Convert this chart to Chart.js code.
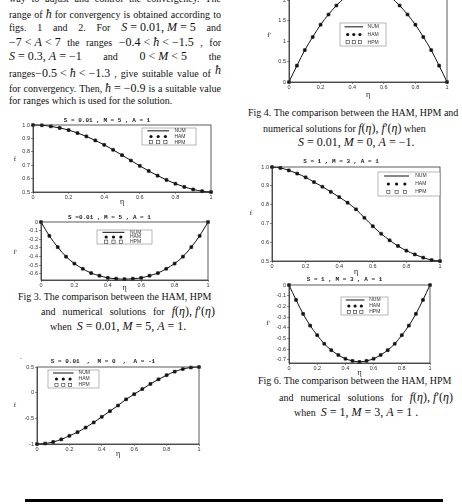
<!DOCTYPE html>
<html>
<head>
<meta charset="utf-8">
<script src="https://cdn.jsdelivr.net/npm/chart.js@4.4.0/dist/chart.umd.min.js"></script>
<style>
html, body { margin: 0; padding: 0; background: #fff; }
body { width: 462px; height: 504px; position: relative; overflow: hidden;
       font-family: 'Liberation Serif', serif; font-size: 10px; color: #111; }
.tx { position: absolute; line-height: 14px; white-space: nowrap; }
.jl { position: absolute; left: 9px; width: 212px; line-height: 14px; white-space: nowrap;
      display: flex; justify-content: space-between; align-items: baseline; }
.m { font-size: 12px; }
canvas { position: absolute; }
.rule { position: absolute; left: 25px; top: 499px; width: 418px; height: 3px; background: #000; }
</style>
</head>
<body>

<div class="jl" style="top:-8px">way|to|adjust|and|control|the|convergency.|The</div>
<div class="jl" style="top:7px">range|of|<span class="m"><i>ħ</i></span>|for|convergency|is|obtained|according|to</div>
<div class="jl" style="top:20px">figs.|1|and|2.|For|<span class="m"><i>S</i> = 0.01, <i>M</i> = 5</span>|and</div>
<div class="jl" style="top:35px"><span class="m">−7 &lt; <i>A</i> &lt; 7</span>|the|ranges|<span class="m">−0.4 &lt; <i>ħ</i> &lt; −1.5</span>|,|for</div>
<div class="jl" style="top:49px"><span class="m"><i>S</i> = 0.3, <i>A</i> = −1</span>|and|<span class="m">0 &lt; <i>M</i> &lt; 5</span>|the</div>
<div class="jl" style="top:66px">ranges<span class="m">−0.5 &lt; <i>ħ</i> &lt; −1.3</span>|,|give|suitable|value|of|<span class="m" style="position:relative;top:-3px"><i>ħ</i></span></div>
<div class="jl" style="top:81px">for|convergency.|Then,|<span class="m"><i>ħ</i> = −0.9</span>|is|a|suitable|value</div>
<div class="tx" style="left:9px;top:94px">for ranges which is used for the solution.</div>

<div class="tx" style="left:18px;top:290px">Fig 3. The comparison between the HAM, HPM</div>
<div class="jl" style="left:41px;width:174px;top:304px">and|numerical|solutions|for|<span class="m"><i>f</i>(<i>η</i>), <i>f</i>′(<i>η</i>)</span></div>
<div class="tx" style="left:50px;top:319px">when&nbsp; <span class="m"><i>S</i> = 0.01, <i>M</i> = 5, <i>A</i> = 1.</span></div>

<div class="tx" style="left:248px;top:106px">Fig 4. The comparison between the HAM, HPM and</div>
<div class="tx" style="left:263px;top:121px">numerical solutions for <span class="m"><i>f</i>(<i>η</i>), <i>f</i>′(<i>η</i>)</span> when</div>
<div class="tx" style="left:298px;top:135px"><span class="m"><i>S</i> = 0.01, <i>M</i> = 0, <i>A</i> = −1.</span></div>

<div class="tx" style="left:258px;top:374px">Fig 6. The comparison between the HAM, HPM</div>
<div class="jl" style="left:279px;width:174px;top:390px">and|numerical|solutions|for|<span class="m"><i>f</i>(<i>η</i>), <i>f</i>′(<i>η</i>)</span></div>
<div class="tx" style="left:294px;top:405px">when&nbsp; <span class="m"><i>S</i> = 1, <i>M</i> = 3, <i>A</i> = 1 .</span></div>

<div class="tx" style="left:20px;top:350px;font-size:7px">.</div>

<canvas id="p1"></canvas>
<canvas id="p2"></canvas>
<canvas id="p3"></canvas>
<canvas id="p4"></canvas>
<canvas id="p5"></canvas>
<canvas id="p6"></canvas>

<div class="rule"></div>

<script>
// eta grid used by every panel
const eta = [0, 0.05, 0.1, 0.15, 0.2, 0.25, 0.3, 0.35, 0.4, 0.45, 0.5,
             0.55, 0.6, 0.65, 0.7, 0.75, 0.8, 0.85, 0.9, 0.95, 1];

// Fig 3: S = 0.01, M = 5, A = 1
const fFig3 = [1.0, 0.998, 0.99, 0.978, 0.962, 0.94, 0.915, 0.885, 0.852, 0.815, 0.775,
               0.735, 0.695, 0.657, 0.622, 0.59, 0.562, 0.538, 0.519, 0.506, 0.5];
const fpFig3 = [0, -0.16, -0.29, -0.4, -0.48, -0.54, -0.59, -0.62, -0.645, -0.655, -0.66,
                -0.655, -0.645, -0.62, -0.59, -0.54, -0.48, -0.4, -0.29, -0.16, 0];

// Fig 4: S = 0.01, M = 0, A = -1
const fFig4 = [-1, -0.99, -0.96, -0.91, -0.84, -0.77, -0.68, -0.58, -0.47, -0.36, -0.25,
               -0.13, -0.03, 0.07, 0.17, 0.26, 0.34, 0.41, 0.46, 0.49, 0.5];
const fpFig4 = [0, 0.4, 0.78, 1.1, 1.4, 1.65, 1.87, 2.05, 2.18, 2.26, 2.28,
                2.26, 2.18, 2.05, 1.87, 1.65, 1.4, 1.1, 0.78, 0.4, 0];

// Fig 6: S = 1, M = 3, A = 1
const fFig6 = [1.0, 0.995, 0.982, 0.965, 0.945, 0.92, 0.895, 0.868, 0.84, 0.81, 0.775,
               0.73, 0.685, 0.645, 0.61, 0.58, 0.555, 0.535, 0.518, 0.505, 0.5];
const fpFig6 = [0, -0.14, -0.27, -0.38, -0.47, -0.55, -0.61, -0.655, -0.69, -0.71, -0.72,
                -0.71, -0.69, -0.655, -0.61, -0.55, -0.47, -0.38, -0.27, -0.14, 0];

const seriesNames = ['NUM', 'HAM', 'HPM'];

// tick values and labels
const etaTicks = [0, 0.2, 0.4, 0.6, 0.8, 1];
const etaTickLabels = ['0', '0.2', '0.4', '0.6', '0.8', '1'];
const fTicks = [0.5, 0.6, 0.7, 0.8, 0.9, 1];
const fTickLabels = ['0.5', '0.6', '0.7', '0.8', '0.9', '1.0'];
const fpFig3Ticks = [-0.6, -0.5, -0.4, -0.3, -0.2, -0.1, 0];
const fpFig3TickLabels = ['-0.6', '-0.5', '-0.4', '-0.3', '-0.2', '-0.1', '0'];
const fFig4Ticks = [-1, -0.5, 0, 0.5];
const fFig4TickLabels = ['-1', '-0.5', '0', '0.5'];
const fpFig4Ticks = [0, 0.5, 1, 1.5, 2, 2.5];
const fpFig4TickLabels = ['0', '0.5', '1', '1.5', '2', '2.5'];
const fpFig6Ticks = [-0.7, -0.6, -0.5, -0.4, -0.3, -0.2, -0.1, 0];
const fpFig6TickLabels = ['-0.7', '-0.6', '-0.5', '-0.4', '-0.3', '-0.2', '-0.1', '0'];

// page layout of each panel (plot box in page pixels)
const panels = [
    { id: 'p1', title: 'S = 0.01 , M = 5 , A = 1', values: fFig3, yTicks: fTicks, yTickLabels: fTickLabels,
      yMin: 0.5, yMax: 1.0, yName: 'f', box: { left: 33, top: 125, right: 211, bottom: 192 },
      titleY: 120, etaY: 202, nameAt: [15, 159], legendAt: [142, 128, 54, 17] },
    { id: 'p2', title: 'S =0.01 , M = 5 , A = 1', values: fpFig3, yTicks: fpFig3Ticks, yTickLabels: fpFig3TickLabels,
      yMin: -0.67, yMax: 0, yName: "f'", box: { left: 41, top: 222, right: 208, bottom: 280 },
      titleY: 217.5, etaY: 288, nameAt: [15, 252], legendAt: [97, 230, 55, 14] },
    { id: 'p3', title: 'S = 0.01  ,  M = 0  ,  A = -1', values: fFig4, yTicks: fFig4Ticks, yTickLabels: fFig4TickLabels,
      yMin: -1, yMax: 0.5, yName: 'f', box: { left: 37, top: 367, right: 199, bottom: 444 },
      titleY: 361, etaY: 454, nameAt: [15, 405], legendAt: [48, 370, 51, 18] },
    { id: 'p4', title: null, values: fpFig4, yTicks: fpFig4Ticks, yTickLabels: fpFig4TickLabels,
      yMin: 0, yMax: 2.5, yName: "f'", box: { left: 289, top: -20.5, right: 447, bottom: 82 },
      titleY: null, etaY: 95, nameAt: [269, 35], legendAt: [340, 23, 46, 23] },
    { id: 'p5', title: 'S = 1 , M = 3 , A = 1', values: fFig6, yTicks: fTicks, yTickLabels: fTickLabels,
      yMin: 0.5, yMax: 1.0, yName: 'f', box: { left: 272, top: 167, right: 440, bottom: 261 },
      titleY: 161, etaY: 272, nameAt: [251, 213], legendAt: [378, 172, 62, 24] },
    { id: 'p6', title: 'S = 1 , M = 3 , A = 1', values: fpFig6, yTicks: fpFig6Ticks, yTickLabels: fpFig6TickLabels,
      yMin: -0.73, yMax: 0, yName: "f'", box: { left: 289, top: 285, right: 430, bottom: 363 },
      titleY: 279, etaY: 373, nameAt: [268, 323], legendAt: [341, 297, 47, 18] }
];

// split justified lines into flex items
document.querySelectorAll('.jl').forEach(function(el) {
    el.innerHTML = el.innerHTML.split('|').map(s => '<span>' + s + '</span>').join('');
});

function labelFor(values, labels, v) {
    const i = values.findIndex(t => Math.abs(t - v) < 1e-9);
    return i < 0 ? '' : labels[i];
}

// frame, y name and legend box drawn on top of each panel
const panelDecor = {
    id: 'panelDecor',
    afterDraw(chart, args, opts) {
        const ctx = chart.ctx;
        const a = chart.chartArea;
        ctx.save();
        ctx.strokeStyle = '#333';
        ctx.lineWidth = 0.8;
        ctx.strokeRect(a.left, a.top, a.right - a.left, a.bottom - a.top);

        ctx.fillStyle = '#222';
        ctx.font = '7px "Liberation Serif"';
        ctx.textAlign = 'center';
        ctx.textBaseline = 'middle';
        ctx.fillText(opts.yName, opts.nameX, opts.nameY);

        const [lx, ly, lw, lh] = opts.legend;
        ctx.fillStyle = '#fff';
        ctx.fillRect(lx, ly, lw, lh);
        ctx.strokeStyle = '#888';
        ctx.lineWidth = 0.6;
        ctx.strokeRect(lx, ly, lw, lh);
        const x0 = lx + lw * 0.1, x1 = lx + lw * 0.5;
        ctx.font = '5px "Liberation Sans"';
        ctx.textAlign = 'left';
        for (let i = 0; i < 3; i++) {
            const cy = ly + lh * (2 * i + 1) / 6;
            if (i === 0) {
                ctx.strokeStyle = '#111';
                ctx.lineWidth = 1;
                ctx.beginPath();
                ctx.moveTo(x0, cy);
                ctx.lineTo(x1, cy);
                ctx.stroke();
            } else {
                for (let k = 0; k < 3; k++) {
                    const px = x0 + (x1 - x0) * (k + 0.5) / 3;
                    if (i === 1) {
                        ctx.fillStyle = '#111';
                        ctx.beginPath();
                        ctx.arc(px, cy, 1.6, 0, Math.PI * 2);
                        ctx.fill();
                    } else {
                        ctx.strokeStyle = '#333';
                        ctx.lineWidth = 0.6;
                        ctx.strokeRect(px - 1.6, cy - 1.6, 3.2, 3.2);
                    }
                }
            }
            ctx.fillStyle = '#333';
            ctx.fillText(seriesNames[i], lx + lw * 0.6, cy);
        }
        ctx.restore();
    }
};

const tickFont = { family: 'Liberation Sans', size: 5.5 };
const titleSize = 6;

panels.forEach(function(p) {
    const canvas = document.getElementById(p.id);
    const padL = 30, padR = 6;
    const left = p.box.left - padL;
    let top, padTop, titleOpts;
    if (p.title) {
        top = Math.round(p.titleY - titleSize / 2 - 1);
        const pt = p.titleY - titleSize / 2 - top;
        const pb = p.box.top - (p.titleY + titleSize / 2);
        padTop = 0;
        titleOpts = { display: true, text: p.title, color: '#222',
                      font: { family: 'Liberation Mono', size: titleSize, lineHeight: 1 },
                      padding: { top: pt, bottom: pb } };
    } else {
        top = Math.floor(p.box.top) - 4;
        padTop = p.box.top - top;
        titleOpts = { display: false };
    }
    const bottom = p.etaY + 4;
    const width = p.box.right - p.box.left + padL + padR;
    const height = bottom - top;
    const xAxisHeight = bottom - p.box.bottom;

    canvas.width = width;
    canvas.height = height;
    canvas.style.left = left + 'px';
    canvas.style.top = top + 'px';
    canvas.style.width = width + 'px';
    canvas.style.height = height + 'px';

    const pts = eta.map((x, i) => ({ x: x, y: p.values[i] }));

    new Chart(canvas.getContext('2d'), {
        type: 'line',
        data: {
            datasets: [{
                label: seriesNames[0],
                data: pts,
                borderColor: '#111',
                borderWidth: 1,
                pointRadius: 0,
                cubicInterpolationMode: 'monotone',
                clip: false
            }, {
                label: seriesNames[1],
                data: pts,
                showLine: false,
                pointStyle: 'circle',
                pointRadius: 1.6,
                pointBackgroundColor: '#111',
                pointBorderWidth: 0,
                clip: false
            }, {
                label: seriesNames[2],
                data: pts,
                showLine: false,
                pointStyle: 'rect',
                pointRadius: 2,
                pointBackgroundColor: 'rgba(255,255,255,0)',
                pointBorderColor: '#333',
                pointBorderWidth: 0.7,
                clip: false
            }]
        },
        options: {
            responsive: false,
            animation: false,
            devicePixelRatio: 1,
            events: [],
            layout: { padding: { left: 0, right: padR, top: padTop, bottom: 0 } },
            plugins: {
                legend: { display: false },
                tooltip: { enabled: false },
                title: titleOpts,
                panelDecor: {
                    yName: p.yName,
                    nameX: p.nameAt[0] - left,
                    nameY: p.nameAt[1] - top,
                    legend: [p.legendAt[0] - left, p.legendAt[1] - top, p.legendAt[2], p.legendAt[3]]
                }
            },
            scales: {
                x: {
                    type: 'linear',
                    min: 0,
                    max: 1,
                    afterBuildTicks: s => { s.ticks = etaTicks.map(v => ({ value: v })); },
                    afterFit: s => { s.height = xAxisHeight; },
                    grid: { drawOnChartArea: false, tickLength: 2, color: '#444', lineWidth: 0.6 },
                    border: { color: '#333', width: 0.8 },
                    ticks: { font: tickFont, color: '#333', padding: 0, maxRotation: 0, autoSkip: false,
                             callback: v => labelFor(etaTicks, etaTickLabels, v) },
                    title: { display: true, text: 'η', color: '#222', padding: 0,
                             font: { family: 'Liberation Serif', size: 8, lineHeight: 1 } }
                },
                y: {
                    min: p.yMin,
                    max: p.yMax,
                    afterBuildTicks: s => { s.ticks = p.yTicks.map(v => ({ value: v })); },
                    afterFit: s => { s.width = padL; },
                    grid: { drawOnChartArea: false, tickLength: 2, color: '#444', lineWidth: 0.6 },
                    border: { color: '#333', width: 0.8 },
                    ticks: { font: tickFont, color: '#333', padding: 1, autoSkip: false,
                             callback: v => labelFor(p.yTicks, p.yTickLabels, v) }
                }
            }
        },
        plugins: [panelDecor]
    });
});
</script>
</body>
</html>
